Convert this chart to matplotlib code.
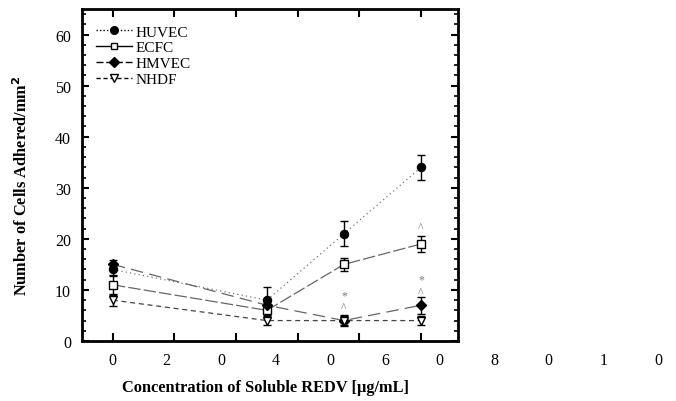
import matplotlib
matplotlib.use("Agg")
import matplotlib.pyplot as plt
from matplotlib.ticker import MultipleLocator
from matplotlib.lines import Line2D

plt.rcParams['font.family'] = ['Liberation Serif', 'DejaVu Serif']

conc = [0, 50, 75, 100]
huvec = [14, 8, 21, 34]
huvec_err = [1.0, 2.5, 2.4, 2.5]
ecfc = [11, 6, 15, 19]
ecfc_err = [1.8, 1.0, 1.2, 1.5]
hmvec = [15, 7, 4, 7]
hmvec_err = [0.9, 1.0, 1.0, 1.7]
nhdf = [8, 4, 4, 4]
nhdf_err = [1.1, 0.8, 0.9, 0.9]

# significance marks: (x, y, symbol)
marks_x = [75, 75, 100, 100, 100]
marks_y = [9.0, 6.6, 22.3, 12.0, 9.6]
marks_s = ['*', '^', '^', '*', '^']

xtick_chars = ['0', '2', '0', '4', '0', '6', '0', '8', '0', '1', '0']

fig = plt.figure(figsize=(6.76, 4.02), dpi=100)
ax = fig.add_axes([82/676, 1-342/402, 376/676, 332/402])

series = [
    ('HUVEC', huvec, huvec_err, 'o', 'black', (0, (1, 2.5)), '#777777', 5.8),
    ('ECFC', ecfc, ecfc_err, 's', 'white', (0, (10, 2.5)), '#666666', 5.2),
    ('HMVEC', hmvec, hmvec_err, 'D', 'black', (0, (10, 5)), '#666666', 5.0),
    ('NHDF', nhdf, nhdf_err, 'v', 'white', (0, (4, 3)), '#444444', 5.8),
]
for name, vals, errs, mk, fc, ls, lc, ms in series:
    ax.plot(conc, vals, linestyle=ls, color=lc, lw=0.9, zorder=2)
    ax.errorbar(conc, vals, yerr=errs, fmt=mk, mfc=fc, mec='black', mew=1.0,
                ms=ms, ecolor='black', elinewidth=1.0, capsize=3, capthick=1.0,
                zorder=3)

for x, y, s in zip(marks_x, marks_y, marks_s):
    ax.text(x, y, s, ha='center', va='center', fontsize=8.5, color='#777777')

handles = [
    Line2D([], [], color='black', ls=(0, (1, 1.5)), lw=1.0, marker='o', mfc='black', mec='black', ms=5.5),
    Line2D([], [], color='black', ls='-', lw=1.0, marker='s', mfc='white', mec='black', ms=5),
    Line2D([], [], color='black', ls=(0, (5, 2)), lw=1.0, marker='D', mfc='black', mec='black', ms=5),
    Line2D([], [], color='black', ls=(0, (3, 2)), lw=1.0, marker='v', mfc='white', mec='black', ms=5.5),
]
ax.legend(handles, ['HUVEC', 'ECFC', 'HMVEC', 'NHDF'], loc='upper left',
          frameon=False, fontsize=11, handlelength=2.4, handletextpad=0.2,
          labelspacing=0.15, borderaxespad=0.2, bbox_to_anchor=(0.012, 0.98))

ax.set_xlim(-10, 112)
ax.set_ylim(0, 65)
ax.xaxis.set_major_locator(MultipleLocator(20))
ax.yaxis.set_major_locator(MultipleLocator(10))
ax.yaxis.set_minor_locator(MultipleLocator(2))
ax.tick_params(axis='both', which='both', direction='in', top=True, right=True)
ax.tick_params(axis='x', which='major', length=6, width=1.5, labelbottom=False)
ax.tick_params(axis='y', which='major', length=5, width=1.5, labelsize=11.5, pad=8)
ax.tick_params(axis='y', which='minor', length=3, width=1.2)
for sp in ax.spines.values():
    sp.set_linewidth(2)

for i, ch in enumerate(xtick_chars):
    fig.text((112 + i*54.6)/676, 1-361/402, ch, ha='center', va='center', fontsize=11.5)

fig.text(266/676, 1-388/402, 'Concentration of Soluble REDV [\u00b5g/mL]',
         ha='center', va='center', fontsize=11.8, fontweight='bold')
fig.text(22/676, 1-186/402, 'Number of Cells Adhered/mm$^\\mathbf{2}$', rotation=90,
         ha='center', va='center', fontsize=11.8, fontweight='bold')

fig.savefig('out.png', dpi=100)
